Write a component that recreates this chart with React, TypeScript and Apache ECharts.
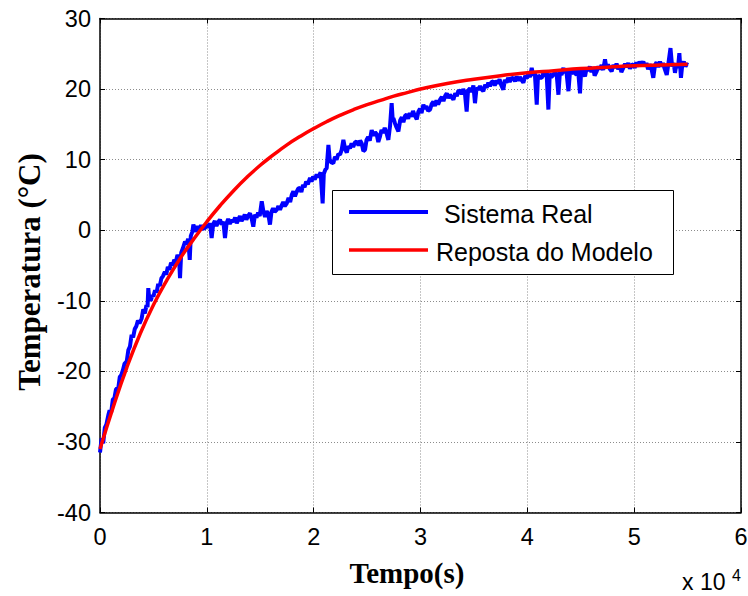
import React, { useEffect, useRef } from "react";
import * as echarts from "echarts";

// Tick labels
const xTickLabels = ["0", "1", "2", "3", "4", "5", "6"];
const yTickValues = [-40, -30, -20, -10, 0, 10, 20, 30];

// Legend / axis texts
const seriesNames = [" Sistema Real", "Reposta do Modelo"];
const xTitle = "Tempo(s)";
const yTitle = "Temperatura (°C)";

// Sistema Real (measured) — time in seconds
const realTime = [
  0, 150, 300, 450, 600, 780, 900, 1050, 1200, 1350, 1500, 1710, 1850, 2000, 2150, 2300, 2500, 2650, 2800, 2960,
  3100, 3250, 3400, 3550, 3700, 3900, 4050, 4200, 4350, 4450, 4520, 4600, 4750, 4900, 5000, 5150, 5300, 5450, 5600, 5750,
  5900, 6070, 6200, 6350, 6500, 6650, 6800, 6950, 7100, 7250, 7400, 7490, 7600, 7750, 7960, 8100, 8250, 8400, 8500, 8650,
  8740, 8850, 9000, 9150, 9300, 9450, 9600, 9830, 9990, 10150, 10300, 10450, 10600, 10750, 10900, 11050, 11230, 11400, 11550, 11700,
  11850, 12000, 12150, 12300, 12480, 12650, 12800, 12950, 13100, 13250, 13400, 13550, 13700, 13850, 14040, 14200, 14350, 14500, 14650, 14800,
  14950, 15140, 15300, 15450, 15600, 15750, 15910, 16050, 16200, 16350, 16540, 16700, 16850, 17000, 17150, 17300, 17480, 17650, 17800, 17950,
  18100, 18250, 18400, 18550, 18720, 18850, 19000, 19150, 19300, 19450, 19660, 19800, 19950, 20100, 20280, 20450, 20650, 20840, 20950, 21100,
  21220, 21380, 21500, 21650, 21840, 22000, 22150, 22300, 22470, 22620, 22780, 22950, 23100, 23250, 23400, 23550, 23700, 23850, 24030, 24200,
  24350, 24500, 24650, 24810, 24950, 25100, 25250, 25430, 25600, 25750, 25900, 26050, 26210, 26350, 26500, 26650, 26800, 26990, 27150, 27300,
  27400, 27460, 27600, 27750, 27930, 28100, 28250, 28400, 28550, 28710, 28850, 29000, 29150, 29300, 29450, 29650, 29800, 29950, 30100, 30270,
  30400, 30550, 30700, 30900, 31050, 31200, 31350, 31500, 31650, 31830, 32000, 32150, 32300, 32460, 32600, 32750, 32900, 33080, 33250, 33400,
  33550, 33700, 33850, 34000, 34150, 34320, 34450, 34630, 34800, 34950, 35100, 35250, 35400, 35570, 35700, 35880, 36050, 36200, 36350, 36500,
  36650, 36820, 36950, 37100, 37250, 37400, 37550, 37750, 37900, 38050, 38200, 38350, 38500, 38690, 38850, 39000, 39150, 39300, 39450, 39630,
  39800, 39950, 40100, 40250, 40410, 40550, 40700, 40880, 41000, 41150, 41350, 41500, 41650, 41800, 41970, 42100, 42250, 42440, 42600, 42750,
  42910, 43050, 43200, 43380, 43500, 43650, 43850, 44000, 44150, 44300, 44450, 44610, 44750, 44930, 45050, 45200, 45400, 45550, 45700, 45850,
  46000, 46150, 46300, 46490, 46650, 46800, 46950, 47100, 47270, 47400, 47550, 47700, 47890, 48050, 48200, 48350, 48500, 48650, 48800, 48980,
  49150, 49300, 49450, 49600, 49750, 49920, 50050, 50200, 50350, 50500, 50650, 50860, 51000, 51150, 51300, 51450, 51600, 51790, 51950, 52100,
  52250, 52420, 52550, 52700, 52850, 53050, 53200, 53400, 53550, 53700, 53820, 53950, 54100, 54230, 54380, 54500, 54650, 54800, 54920, 55050,
];
const realTemp = [
  -31.5, -29.5, -30.2, -28.0, -27.5, -26.2, -25.5, -25.8, -24.0, -23.8, -22.5, -22.4, -20.8, -20.5, -19.8, -18.9, -18.6, -17.0, -16.5, -14.8,
  -15.2, -14.0, -13.6, -12.8, -13.2, -12.5, -11.2, -11.8, -10.6, -10.9, -8.2, -9.6, -10.0, -9.2, -9.4, -8.5, -8.8, -7.6, -7.9, -6.8,
  -6.5, -5.9, -6.3, -5.2, -5.6, -4.6, -5.0, -4.2, -4.5, -3.5, -3.9, -6.8, -3.2, -2.6, -1.6, -2.0, -1.2, -4.2, -0.8, -0.2,
  0.8, 0.3, -0.2, 0.6, 0.1, 0.7, 0.2, 0.3, 0.8, 0.4, 1.0, -1.1, 0.9, 1.3, 0.6, 1.1, 1.5, 0.8, 1.2, -1.1,
  1.0, 1.6, 0.9, 1.4, 1.2, 1.8, 1.0, 1.5, 2.0, 1.3, 1.7, 2.2, 1.5, 2.0, 2.4, 1.6, 0.5, 2.2, 1.8, 2.5,
  2.0, 4.1, 2.6, 1.9, 2.7, 2.3, 0.8, 2.6, 3.1, 2.6, 2.9, 3.4, 2.9, 3.5, 4.0, 3.4, 3.8, 4.6, 4.0, 5.0,
  5.5, 4.8, 5.4, 5.9, 6.0, 5.4, 6.4, 6.1, 6.9, 6.5, 7.4, 6.9, 7.6, 7.2, 7.9, 7.5, 8.2, 3.8, 8.0, 8.6,
  8.8, 12.1, 10.0, 9.6, 9.5, 10.4, 10.0, 10.8, 10.7, 11.4, 12.8, 11.5, 11.0, 11.9, 11.6, 12.3, 11.8, 12.4, 12.6, 12.0,
  12.7, 12.3, 11.2, 11.4, 12.8, 13.2, 12.7, 14.2, 13.4, 13.9, 13.6, 12.5, 13.3, 14.2, 13.8, 14.5, 13.9, 12.8, 14.8, 18.0,
  15.6, 15.9, 15.2, 14.6, 14.0, 15.6, 16.0, 15.3, 16.2, 16.4, 15.8, 16.6, 16.1, 16.9, 16.3, 15.7, 16.8, 17.2, 16.6, 17.8,
  17.2, 17.6, 16.9, 17.1, 17.9, 18.2, 17.6, 18.4, 17.8, 18.5, 18.9, 18.3, 19.0, 19.4, 18.7, 19.2, 18.9, 18.5, 19.4, 19.0,
  19.8, 19.7, 19.3, 20.0, 19.5, 16.8, 19.8, 20.1, 19.6, 20.5, 18.0, 20.2, 19.9, 20.4, 20.0, 19.7, 20.6, 20.2, 20.9, 20.4,
  21.0, 21.1, 20.5, 21.2, 20.8, 21.4, 20.6, 19.9, 21.3, 20.9, 21.6, 21.0, 21.5, 21.6, 21.1, 21.8, 21.2, 21.7, 21.3, 20.9,
  21.9, 21.5, 22.2, 21.7, 23.0, 21.9, 22.3, 17.8, 22.0, 21.6, 21.6, 22.3, 21.8, 22.4, 17.1, 22.2, 21.7, 22.0, 22.5, 22.0,
  19.2, 22.4, 22.0, 23.0, 22.3, 22.6, 19.7, 22.6, 22.1, 22.8, 22.3, 22.0, 22.7, 19.4, 22.9, 22.4, 21.8, 23.0, 22.6, 23.2,
  22.4, 23.1, 21.9, 22.5, 23.2, 22.8, 23.4, 22.7, 24.2, 23.0, 23.5, 22.9, 22.5, 23.4, 23.0, 23.6, 22.8, 23.3, 22.4, 23.0,
  23.6, 23.1, 23.7, 22.9, 23.4, 23.5, 23.0, 23.8, 23.2, 23.9, 23.3, 23.9, 23.2, 23.7, 22.8, 23.5, 23.0, 21.6, 23.4, 23.8,
  23.1, 23.9, 23.2, 23.7, 22.9, 22.0, 23.6, 25.8, 23.2, 23.7, 22.3, 23.5, 23.0, 25.1, 21.6, 23.4, 23.9, 23.2, 23.5, 23.4,
];

// Reposta do Modelo — time in seconds
const modelTime = [
  0, 1250, 2500, 3750, 5000, 6250, 7500, 8750, 10000, 11250, 12500, 13750, 15000, 16250, 17500, 18750, 20000, 21250,
  22500, 23750, 25000, 26250, 27500, 28750, 30000, 32500, 35000, 37500, 40000, 42500, 45000, 47500, 50000, 52500, 55000,
];
const modelTemp = [
  -31.0, -25.0, -19.5, -14.7, -10.6, -7.1, -4.0, -1.3, 1.2, 3.5, 5.6, 7.5, 9.2, 10.7, 12.1, 13.3, 14.4, 15.4,
  16.3, 17.1, 17.8, 18.4, 19.0, 19.5, 20.0, 20.8, 21.4, 21.9, 22.3, 22.6, 22.9, 23.1, 23.3, 23.4, 23.5,
];

const GRID_L = 100;
const GRID_T = 18.5;
const GRID_R = 748 - 741;
const GRID_B = 596 - 512.5;

export default function App() {
  const ref = useRef<HTMLDivElement>(null);

  useEffect(() => {
    if (!ref.current) return;
    const chart = echarts.init(ref.current, null, { renderer: "svg" });

    const realData = realTime.map((t, i) => [t, realTemp[i]]);
    const modelData = modelTime.map((t, i) => [t, modelTemp[i]]);

    const tickStyle = { show: true, inside: true, length: 5, lineStyle: { color: "#000", width: 1 } };
    const axisLine = { show: true, onZero: false, lineStyle: { color: "#000", width: 1.5 } };
    const splitLine = { show: true, lineStyle: { color: "#8c8c8c", width: 1, type: [1, 2] as any } };

    chart.setOption({
      animation: false,
      backgroundColor: "#fff",
      grid: {
        left: GRID_L,
        top: GRID_T,
        right: GRID_R,
        bottom: GRID_B,
        containLabel: false,
        outerBoundsMode: "none",
      },
      xAxis: [
        {
          type: "value",
          min: 0,
          max: 60000,
          interval: 10000,
          position: "bottom",
          axisLine,
          axisTick: tickStyle,
          splitLine,
          axisLabel: {
            color: "#000",
            fontFamily: "Liberation Sans, Arial, sans-serif",
            fontSize: 23.5,
            margin: 12,
            formatter: (v: number) => xTickLabels[Math.round(v / 10000)] ?? "",
          },
        },
        {
          type: "value",
          min: 0,
          max: 60000,
          interval: 10000,
          position: "top",
          axisLine,
          axisTick: tickStyle,
          splitLine: { show: false },
          axisLabel: { show: false },
        },
      ],
      yAxis: [
        {
          type: "value",
          min: yTickValues[0],
          max: yTickValues[yTickValues.length - 1],
          interval: 10,
          position: "left",
          axisLine,
          axisTick: tickStyle,
          splitLine,
          axisLabel: {
            color: "#000",
            fontFamily: "Liberation Sans, Arial, sans-serif",
            fontSize: 23.5,
            margin: 9,
          },
        },
        {
          type: "value",
          min: yTickValues[0],
          max: yTickValues[yTickValues.length - 1],
          interval: 10,
          position: "right",
          axisLine,
          axisTick: tickStyle,
          splitLine: { show: false },
          axisLabel: { show: false },
        },
      ],
      series: [
        {
          name: seriesNames[0],
          type: "line",
          data: realData,
          showSymbol: false,
          lineStyle: { color: "#0000ff", width: 4 },
          xAxisIndex: 0,
          yAxisIndex: 0,
          z: 2,
        },
        {
          name: seriesNames[1],
          type: "line",
          data: modelData,
          showSymbol: false,
          smooth: true,
          lineStyle: { color: "#ff0000", width: 3.5 },
          xAxisIndex: 0,
          yAxisIndex: 0,
          z: 3,
        },
      ],
      graphic: [
        {
          type: "rect",
          shape: { x: 332.5, y: 190.5, width: 341, height: 84 },
          style: { fill: "#fff", stroke: "#000", lineWidth: 1 },
          z: 10,
        },
        {
          type: "line",
          shape: { x1: 349, y1: 212, x2: 428, y2: 212 },
          style: { stroke: "#0000ff", lineWidth: 4 },
          z: 11,
        },
        {
          type: "line",
          shape: { x1: 349, y1: 250, x2: 428, y2: 250 },
          style: { stroke: "#ff0000", lineWidth: 3.5 },
          z: 11,
        },
        {
          type: "text",
          style: {
            x: 437,
            y: 214,
            text: seriesNames[0],
            fontFamily: "Liberation Sans, Arial, sans-serif",
            fontSize: 25,
            fill: "#000",
            textAlign: "left",
            textVerticalAlign: "middle",
          },
          z: 11,
        },
        {
          type: "text",
          style: {
            x: 436,
            y: 252,
            text: seriesNames[1],
            fontFamily: "Liberation Sans, Arial, sans-serif",
            fontSize: 25,
            fill: "#000",
            textAlign: "left",
            textVerticalAlign: "middle",
          },
          z: 11,
        },
        {
          type: "text",
          style: {
            x: 407,
            y: 573,
            text: xTitle,
            fontFamily: "Liberation Serif, Times New Roman, serif",
            fontWeight: "bold",
            fontSize: 29,
            fill: "#000",
            textAlign: "center",
            textVerticalAlign: "middle",
          },
        },
        {
          type: "text",
          x: 29,
          y: 272,
          rotation: Math.PI / 2,
          style: {
            x: 0,
            y: 0,
            text: yTitle,
            fontFamily: "Liberation Serif, Times New Roman, serif",
            fontWeight: "bold",
            fontSize: 31,
            fill: "#000",
            textAlign: "center",
            textVerticalAlign: "middle",
          },
        },
        {
          type: "text",
          style: {
            x: 682,
            y: 593,
            text: "x 10",
            fontFamily: "Liberation Sans, Arial, sans-serif",
            fontSize: 23,
            fill: "#000",
            textAlign: "left",
            textVerticalAlign: "bottom",
          },
        },
        {
          type: "text",
          style: {
            x: 732,
            y: 583,
            text: "4",
            fontFamily: "Liberation Sans, Arial, sans-serif",
            fontSize: 16,
            fill: "#000",
            textAlign: "left",
            textVerticalAlign: "bottom",
          },
        },
      ],
    });

    return () => {
      chart.dispose();
    };
  }, []);

  return <div ref={ref} style={{ width: 748, height: 596, position: "absolute", left: 0, top: 0 }} />;
}
